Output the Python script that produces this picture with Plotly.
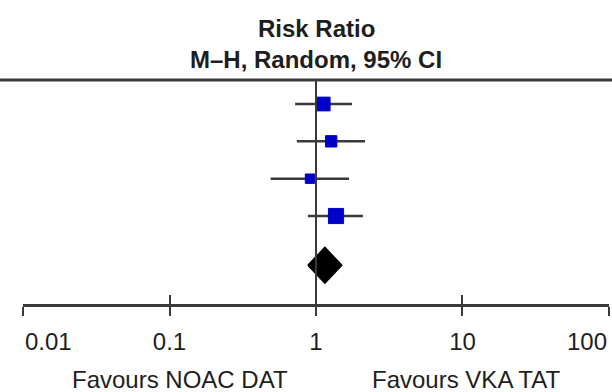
import plotly.graph_objects as go
import numpy as np

# Data
rows = [1, 2, 3, 4]
rr = [1.12, 1.27, 0.91, 1.37]
ci_low = [0.72, 0.74, 0.49, 0.88]
ci_high = [1.76, 2.16, 1.68, 2.09]
weights = [28, 19, 13, 34]
total_row = 5.32
total_rr = 1.15
total_low = 0.88
total_high = 1.50
tick_vals = [0.01, 0.1, 1, 10, 100]
tick_text = ["0.01", "0.1", "1", "10", "100"]
left_label = "Favours NOAC DAT"
right_label = "Favours VKA TAT"
title1 = "Risk Ratio"
title2 = "M–H, Random, 95% CI"

FONT = "Liberation Sans, Arial, sans-serif"
LINE = "#3a3a3a"
TXT = "#1e1e1e"

fig = go.Figure()

# CI lines
for y, lo, hi in zip(rows, ci_low, ci_high):
    fig.add_trace(go.Scatter(x=[lo, hi], y=[y, y], mode="lines",
                             line=dict(color=LINE, width=2.5),
                             showlegend=False, hoverinfo="skip"))

# squares
sizes = [np.sqrt(w) * 2.6 for w in weights]
fig.add_trace(go.Scatter(x=rr, y=rows, mode="markers",
                         marker=dict(symbol="square", size=sizes, color="#0000c8",
                                     opacity=1, line=dict(width=1, color="#0000c8")),
                         showlegend=False, hoverinfo="skip"))

# diamond
h = 0.48
fig.add_trace(go.Scatter(x=[total_low, total_rr, total_high, total_rr, total_low],
                         y=[total_row, total_row - h, total_row, total_row + h, total_row],
                         mode="lines", fill="toself", fillcolor="black",
                         line=dict(color="black", width=1.5),
                         showlegend=False, hoverinfo="skip"))

# invisible trace on second x axis for inside ticks
fig.add_trace(go.Scatter(x=[1], y=[1], xaxis="x2", mode="markers",
                         marker=dict(opacity=0), showlegend=False, hoverinfo="skip"))

xr = [np.log10(tick_vals[0]) - 1e-4, np.log10(tick_vals[-1]) + 1e-4]
# end labels are drawn as annotations kept inside the figure
axis_text = [""] + tick_text[1:-1] + [""]

fig.update_layout(
    width=612, height=392,
    margin=dict(l=23, r=3, t=80, b=88, autoexpand=False),
    plot_bgcolor="white", paper_bgcolor="white",
    font=dict(family=FONT, color=TXT),
    xaxis=dict(type="log", range=xr, tickvals=tick_vals, ticktext=axis_text,
               ticks="outside", ticklen=9, tickwidth=2, tickcolor=LINE,
               showline=True, linecolor=LINE, linewidth=2.5, automargin=False,
               showgrid=False, zeroline=False, ticklabelstandoff=5,
               tickfont=dict(size=24, family=FONT, color=TXT)),
    xaxis2=dict(type="log", range=xr, tickvals=tick_vals, overlaying="x", anchor="y",
                side="bottom", ticks="inside", ticklen=9, tickwidth=2, tickcolor=LINE,
                automargin=False,
                showticklabels=False, showgrid=False, zeroline=False, showline=False),
    yaxis=dict(range=[6.357, 0.357], visible=False, showgrid=False, zeroline=False,
               automargin=False),
    shapes=[
        dict(type="line", xref="x", yref="paper", x0=1, x1=1, y0=0, y1=1,
             line=dict(color=LINE, width=2)),
        dict(type="line", xref="paper", yref="paper", x0=-0.05, x1=1.05, y0=1, y1=1,
             line=dict(color=LINE, width=3)),
    ],
    annotations=[
        dict(text="<b>" + title1 + "</b>", xref="paper", yref="paper", x=0.5, y=1,
             xanchor="center", yanchor="middle", yshift=52, showarrow=False,
             font=dict(size=24, family=FONT, color=TXT)),
        dict(text="<b>" + title2 + "</b>", xref="paper", yref="paper", x=0.5, y=1,
             xanchor="center", yanchor="middle", yshift=21, showarrow=False,
             font=dict(size=24, family=FONT, color=TXT)),
        dict(text=tick_text[0], xref="x", yref="paper", x=np.log10(tick_vals[0]), y=0,
             xanchor="left", yanchor="middle", yshift=-37, showarrow=False,
             font=dict(size=24, family=FONT, color=TXT)),
        dict(text=tick_text[-1], xref="x", yref="paper", x=np.log10(tick_vals[-1]), y=0,
             xanchor="right", yanchor="middle", yshift=-37, showarrow=False,
             font=dict(size=24, family=FONT, color=TXT)),
        dict(text=left_label, xref="paper", yref="paper", x=0.268, y=0,
             xanchor="center", yanchor="middle", yshift=-75, showarrow=False,
             font=dict(size=24, family=FONT, color=TXT)),
        dict(text=right_label, xref="paper", yref="paper", x=0.756, y=0,
             xanchor="center", yanchor="middle", yshift=-75, showarrow=False,
             font=dict(size=24, family=FONT, color=TXT)),
    ],
)

fig.write_html("out.html")
